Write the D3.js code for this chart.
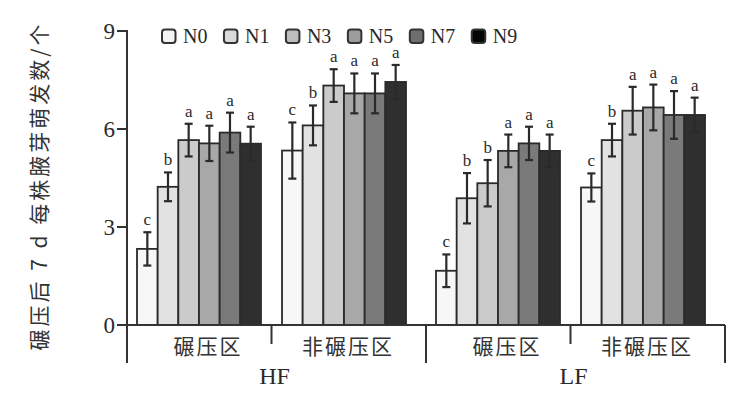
<!DOCTYPE html>
<html><head><meta charset="utf-8">
<script src="https://cdn.jsdelivr.net/npm/d3@7"></script>
<style>
html,body{margin:0;padding:0;background:#fff;}
svg{display:block;}
</style>
</head><body>
<svg id="chart" width="740" height="395"></svg>
<script>
// ---- data ----
const sections = ["HF", "LF"];
const regions = ["碾压区", "非碾压区"];
const nLevels = ["N0", "N1", "N3", "N5", "N7", "N9"];
const yTicks = [0, 3, 6, 9];
const yLabel = "碾压后 7 d 每株腋芽萌发数/个";

const HF_roll_mean   = [2.33, 4.23, 5.66, 5.56, 5.89, 5.55];
const HF_roll_err    = [0.51, 0.44, 0.50, 0.54, 0.61, 0.52];
const HF_roll_sig    = ["c", "b", "a", "a", "a", "a"];
const HF_noroll_mean = [5.34, 6.11, 7.33, 7.09, 7.09, 7.44];
const HF_noroll_err  = [0.86, 0.61, 0.50, 0.61, 0.61, 0.52];
const HF_noroll_sig  = ["c", "b", "a", "a", "a", "a"];
const LF_roll_mean   = [1.66, 3.88, 4.34, 5.33, 5.56, 5.33];
const LF_roll_err    = [0.50, 0.77, 0.71, 0.50, 0.51, 0.50];
const LF_roll_sig    = ["c", "b", "b", "a", "a", "a"];
const LF_noroll_mean = [4.21, 5.66, 6.56, 6.66, 6.43, 6.43];
const LF_noroll_err  = [0.43, 0.50, 0.73, 0.70, 0.73, 0.53];
const LF_noroll_sig  = ["c", "b", "a", "a", "a", "a"];

const groups = [
  {sec: "HF", reg: "碾压区", mean: HF_roll_mean, err: HF_roll_err, sig: HF_roll_sig},
  {sec: "HF", reg: "非碾压区", mean: HF_noroll_mean, err: HF_noroll_err, sig: HF_noroll_sig},
  {sec: "LF", reg: "碾压区", mean: LF_roll_mean, err: LF_roll_err, sig: LF_roll_sig},
  {sec: "LF", reg: "非碾压区", mean: LF_noroll_mean, err: LF_noroll_err, sig: LF_noroll_sig}
];

// ---- styles ----
const fills = ["#f7f7f7", "#e2e2e2", "#cbcbcb", "#a8a8a8", "#7a7a7a", "#2f2f2f"];
const legendFills = ["#f4f4f4", "#dadada", "#bdbdbd", "#9c9c9c", "#6e6e6e", "#050505"];
const ink = "#2a2a2a";
const serif = "'Liberation Serif','DejaVu Serif',serif";
const cjk = "'Noto Sans CJK SC','Noto Sans',sans-serif";

const svg = d3.select("#chart");
const x0 = 127, x1 = 725, yTop = 31, yZero = 325, yBottom = 363;

const y = d3.scaleLinear().domain([0, 9]).range([yZero, yTop]);
const xSec = d3.scaleBand().domain(sections).range([x0, x1]);
const xReg = d3.scaleBand().domain(regions).range([10, xSec.bandwidth() - 20]).paddingInner(0.145);
const xN = d3.scaleBand().domain(nLevels).range([0, xReg.bandwidth()]);

const gx = g => xSec(g.sec) + xReg(g.reg);

// ---- bars ----
const gBars = svg.append("g");
groups.forEach(g => {
  const base = gx(g);
  const cg = gBars.append("g");
  nLevels.forEach((n, i) => {
    const bx = base + xN(n);
    cg.append("rect")
      .attr("x", bx).attr("y", y(g.mean[i]))
      .attr("width", xN.bandwidth()).attr("height", y(0) - y(g.mean[i]))
      .attr("fill", fills[i]).attr("stroke", ink).attr("stroke-width", 1.8);
  });
});
// error bars and letters on top
groups.forEach(g => {
  const base = gx(g);
  nLevels.forEach((n, i) => {
    const cx = base + xN(n) + xN.bandwidth() / 2;
    const hi = y(g.mean[i] + g.err[i]), lo = y(g.mean[i] - g.err[i]);
    const eb = svg.append("g").attr("stroke", ink).attr("stroke-width", 2.2);
    eb.append("line").attr("x1", cx).attr("x2", cx).attr("y1", hi).attr("y2", lo);
    eb.append("line").attr("x1", cx - 4).attr("x2", cx + 4).attr("y1", hi).attr("y2", hi);
    eb.append("line").attr("x1", cx - 4).attr("x2", cx + 4).attr("y1", lo).attr("y2", lo);
    svg.append("text").attr("x", cx).attr("y", hi - 7)
      .attr("text-anchor", "middle").attr("font-family", serif).attr("font-size", 17)
      .attr("fill", ink).text(g.sig[i]);
  });
});

// ---- axes ----
const axG = svg.append("g").attr("stroke", "#333").attr("stroke-width", 2).attr("fill", "none");
axG.append("line").attr("x1", x0).attr("x2", x0).attr("y1", y(9) - 1).attr("y2", yBottom);
axG.append("line").attr("x1", x0 - 10).attr("x2", x1).attr("y1", y(0)).attr("y2", y(0));
yTicks.forEach(t => {
  axG.append("line").attr("x1", x0 - 10).attr("x2", x0).attr("y1", y(t)).attr("y2", y(t));
  svg.append("text").attr("x", 115).attr("y", y(t) + 8)
    .attr("text-anchor", "end").attr("font-family", serif).attr("font-size", 23)
    .attr("fill", ink).text(t);
});
// section boundaries (long) and region separators (short)
sections.forEach(s => {
  axG.append("line").attr("x1", xSec(s) + xSec.bandwidth()).attr("x2", xSec(s) + xSec.bandwidth())
    .attr("y1", yZero).attr("y2", yBottom);
  const mid = xSec(s) + (xReg("碾压区") + xReg.bandwidth() + xReg("非碾压区")) / 2;
  axG.append("line").attr("x1", mid).attr("x2", mid).attr("y1", yZero).attr("y2", yZero + 19);
  svg.append("text").attr("x", mid + 3).attr("y", 384)
    .attr("text-anchor", "middle").attr("font-family", serif).attr("font-size", 24)
    .attr("fill", ink).text(s);
});
// region labels
const regShift = {"碾压区": 9, "非碾压区": 4};
groups.forEach(g => {
  svg.append("text").attr("x", gx(g) + xReg.bandwidth() / 2 + regShift[g.reg]).attr("y", 354)
    .attr("text-anchor", "middle").attr("font-family", cjk).attr("font-size", 21)
    .attr("letter-spacing", 2).attr("fill", "#333").text(g.reg);
});

// y label
svg.append("text")
  .attr("transform", "translate(47,186) rotate(-90)")
  .attr("text-anchor", "middle").attr("font-family", cjk).attr("font-size", 21)
  .attr("letter-spacing", 3).attr("fill", "#333")
  .text(yLabel);

// ---- legend ----
const leg = svg.append("g");
let lx = 162;
nLevels.forEach((n, i) => {
  leg.append("rect").attr("x", lx).attr("y", 29.5).attr("width", 13.5).attr("height", 13.5)
    .attr("rx", 3).attr("fill", legendFills[i]).attr("stroke", "#333").attr("stroke-width", 2);
  const t = leg.append("text").attr("x", lx + 21).attr("y", 43)
    .attr("font-family", serif).attr("font-size", 20).attr("fill", ink).text(n);
  lx += 21 + t.node().getComputedTextLength() + 16.5;
});
</script>
</body></html>
